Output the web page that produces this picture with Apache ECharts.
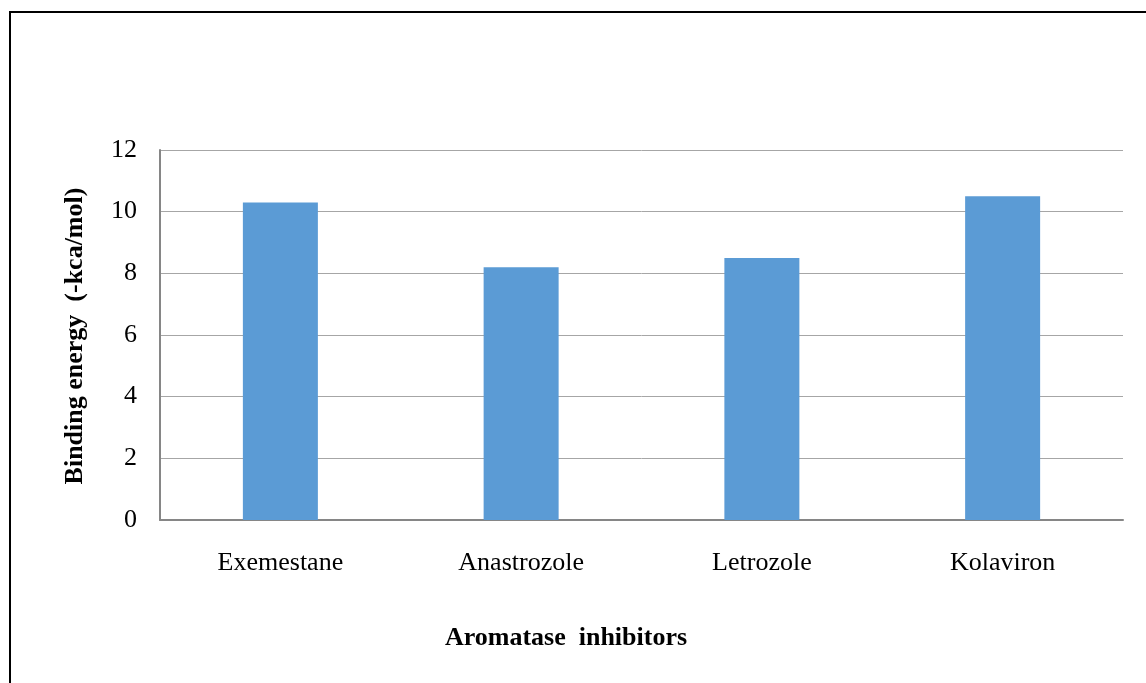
<!DOCTYPE html>
<html><head><meta charset="utf-8">
<script src="https://cdn.jsdelivr.net/npm/echarts@6/dist/echarts.min.js"></script>
<style>html,body{margin:0;padding:0;background:#fff}#c{width:1146px;height:683px}</style>
</head><body><div id="c"></div>
<script>
const categories = ["Exemestane", "Anastrozole", "Letrozole", "Kolaviron"];
const bindingEnergy = [10.3, 8.2, 8.5, 10.5];
const yTicks = [0, 2, 4, 6, 8, 10, 12];
const xTitle = "Aromatase  inhibitors";
const yTitle = "Binding energy  (-kca/mol)";

const chart = echarts.init(document.getElementById('c'), null, {renderer: 'canvas'});
const serif = '"Liberation Serif", "DejaVu Serif", serif';
chart.setOption({
  animation: false,
  backgroundColor: '#fff',
  grid: {left: 160, right: 23, top: 150, bottom: 163, containLabel: false},
  xAxis: {
    type: 'category', data: categories,
    axisLine: {lineStyle: {color: '#868686', width: 2}},
    axisTick: {show: false},
    axisLabel: {color: '#000', fontFamily: serif, fontSize: 26, margin: 30}
  },
  yAxis: {
    type: 'value', min: yTicks[0], max: yTicks[yTicks.length - 1], interval: 2,
    axisLine: {show: true, lineStyle: {color: '#868686', width: 2}},
    axisTick: {show: false},
    splitLine: {lineStyle: {color: '#a6a6a6', width: 1}},
    axisLabel: {color: '#000', fontFamily: serif, fontSize: 26, margin: 23}
  },
  series: [{
    type: 'bar', data: bindingEnergy, barWidth: 75,
    itemStyle: {color: '#5b9bd5'}
  }],
  graphic: [
    {type: 'polyline', shape: {points: [[10, 683], [10, 12], [1146, 12]]},
     style: {stroke: '#000', lineWidth: 2, fill: null}},
    {type: 'text', x: 566, y: 638,
     style: {text: xTitle, font: 'bold 26px ' + serif, fill: '#000', textAlign: 'center', textVerticalAlign: 'middle'}},
    {type: 'text', x: 75, y: 336, rotation: Math.PI / 2,
     style: {text: yTitle, font: 'bold 26px ' + serif, fill: '#000', textAlign: 'center', textVerticalAlign: 'middle'}}
  ]
});
</script></body></html>
